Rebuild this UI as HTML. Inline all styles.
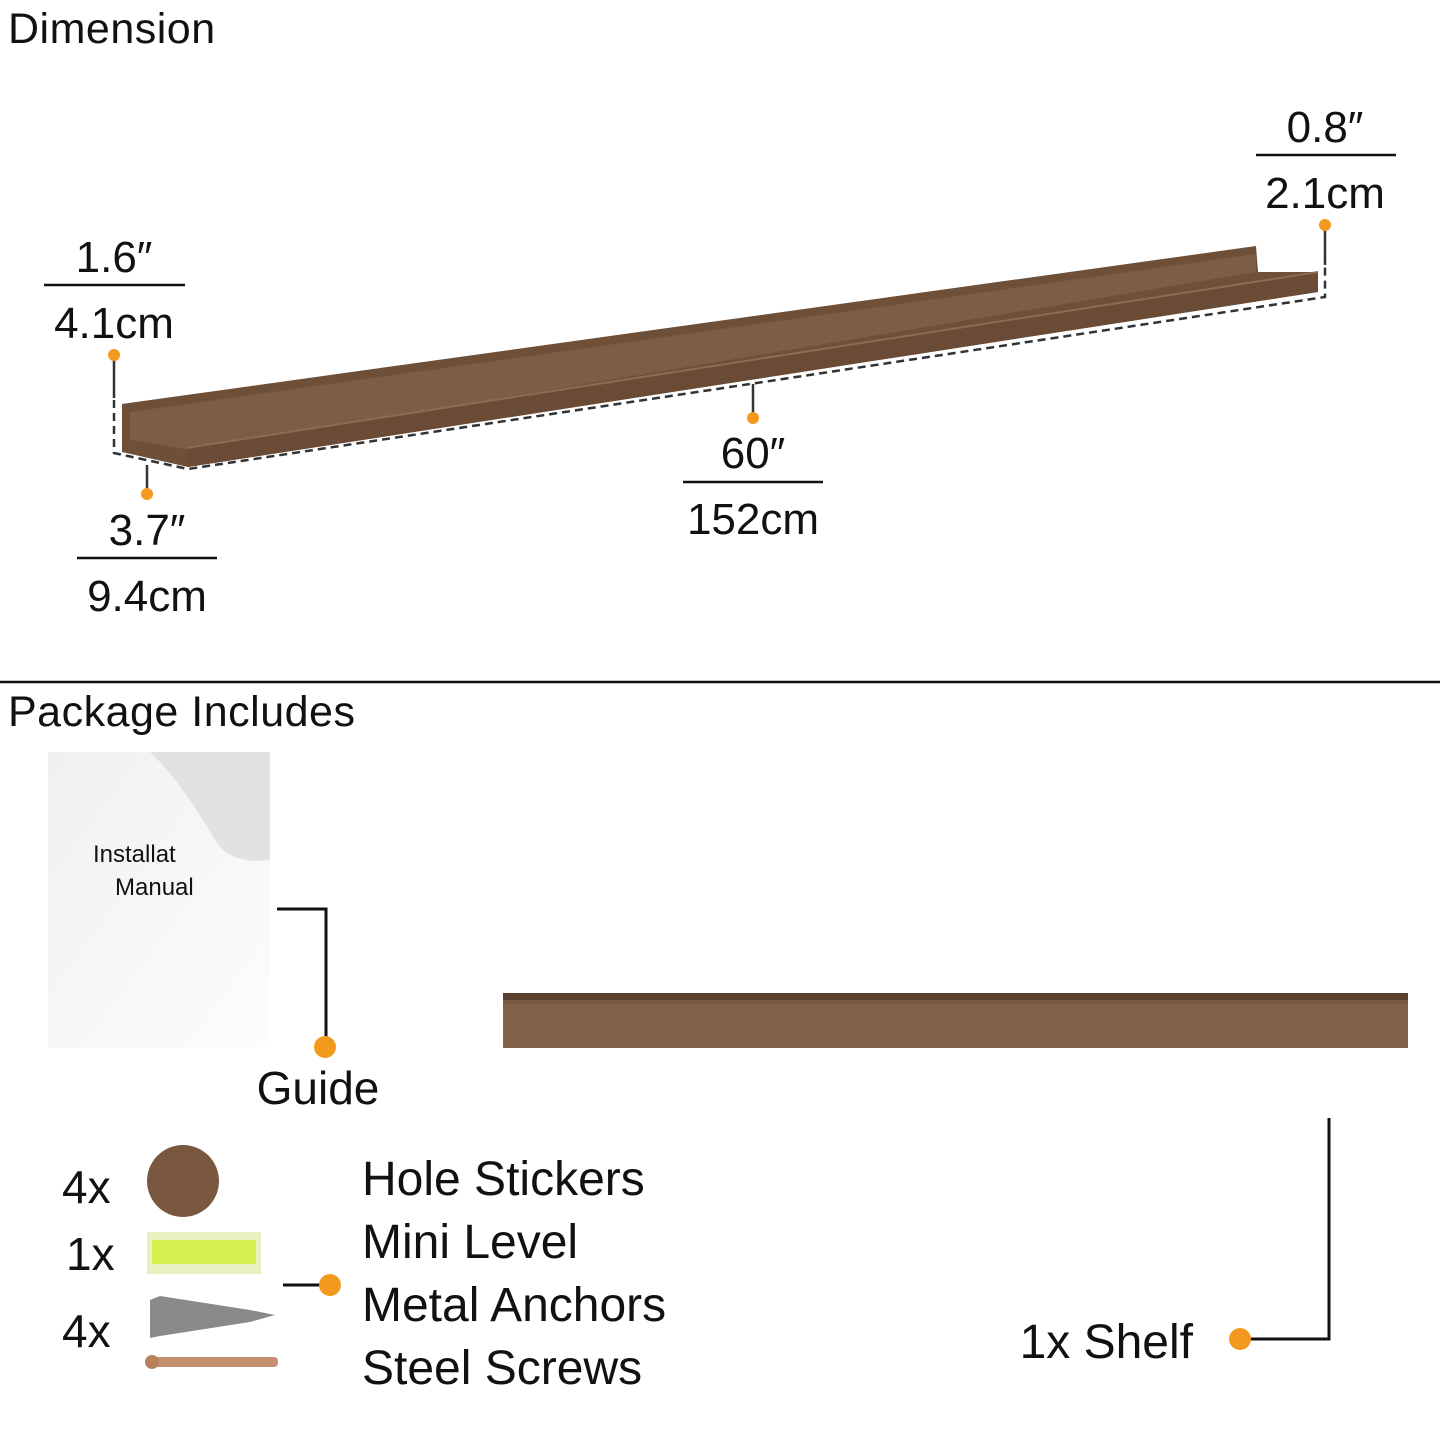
<!DOCTYPE html>
<html><head><meta charset="utf-8"><style>
body{margin:0;width:1440px;height:1440px;background:#fff;overflow:hidden;font-family:"Liberation Sans",sans-serif;}
svg{position:absolute;left:0;top:0}
</style></head><body>
<svg width="1440" height="1440" viewBox="0 0 1440 1440" font-family="Liberation Sans, sans-serif" fill="#111">
<defs>
<linearGradient id="man" x1="0" y1="0" x2="1" y2="1"><stop offset="0" stop-color="#f0f0f0"/><stop offset="1" stop-color="#fdfdfd"/></linearGradient>
</defs>
<text x="8" y="43" font-size="43" letter-spacing="0.5">Dimension</text>
<polygon points="122,404 1256,246 1258,272 1318,272 1318,292 188,467 122,452" fill="#6e4f38"/>
<polygon points="130,412 1256,254 1256,272 190,450 130,440" fill="#7d5d43"/>
<polygon points="186,448 1318,272 1318,292 188,467" fill="#6a4b35"/>
<line x1="186" y1="448" x2="1318" y2="272" stroke="#8c6c50" stroke-width="2"/>
<polyline points="114,400 114,453 188,469 1325,297 1325,262" fill="none" stroke="#333" stroke-width="2.5" stroke-dasharray="8,5"/>
<g stroke="#333" stroke-width="2.5">
<line x1="114" y1="355" x2="114" y2="398"/><line x1="147" y1="465" x2="147" y2="494"/>
<line x1="753" y1="384" x2="753" y2="418"/><line x1="1325" y1="225" x2="1325" y2="265"/>
</g>
<g fill="#f39a1e"><circle cx="114" cy="355" r="6"/><circle cx="147" cy="494" r="6"/><circle cx="753" cy="418" r="6"/><circle cx="1325" cy="225" r="6"/></g>
<g font-size="44" text-anchor="middle">
<text x="114" y="272">1.6″</text><text x="114" y="338">4.1cm</text>
<text x="147" y="545">3.7″</text><text x="147" y="611">9.4cm</text>
<text x="753" y="468">60″</text><text x="753" y="534">152cm</text>
<text x="1325" y="142">0.8″</text><text x="1325" y="208">2.1cm</text>
</g>
<g stroke="#111" stroke-width="2.5">
<line x1="44" y1="285" x2="185" y2="285"/><line x1="77" y1="558" x2="217" y2="558"/>
<line x1="683" y1="482" x2="823" y2="482"/><line x1="1256" y1="155" x2="1396" y2="155"/>
<line x1="0" y1="682" x2="1440" y2="682"/>
</g>
<text x="8" y="726" font-size="43" letter-spacing="0.5">Package Includes</text>
<rect x="48" y="752" width="222" height="296" fill="url(#man)"/>
<path d="M150,752 L270,752 L270,860 Q230,865 215,840 Q180,780 150,752 Z" fill="#e2e2e2"/>
<text x="93" y="862" font-size="24">Installat</text>
<text x="115" y="895" font-size="24">Manual</text>
<polyline points="277,909 326,909 326,1040" fill="none" stroke="#111" stroke-width="3"/>
<circle cx="325" cy="1047" r="11" fill="#f39a1e"/>
<text x="318" y="1104" font-size="46" text-anchor="middle">Guide</text>
<rect x="503" y="993" width="905" height="55" fill="#7a5b42"/>
<rect x="503" y="993" width="905" height="7" fill="#5a3f2c"/>
<rect x="503" y="1004" width="905" height="44" fill="#86664b" opacity="0.6"/>
<polyline points="1329,1118 1329,1339 1245,1339" fill="none" stroke="#111" stroke-width="3"/>
<circle cx="1240" cy="1339" r="11" fill="#f39a1e"/>
<text x="1193" y="1358" font-size="48" text-anchor="end">1x Shelf</text>
<g font-size="46"><text x="62" y="1203">4x</text><text x="66" y="1270">1x</text><text x="62" y="1347">4x</text></g>
<circle cx="183" cy="1181" r="36" fill="#7a5840"/>
<rect x="147" y="1232" width="114" height="42" fill="#e8f0c0"/>
<rect x="152" y="1240" width="104" height="24" fill="#d6f050"/>
<path d="M150,1300 L160,1296 L250,1310 L275,1315 L250,1322 L160,1336 L150,1338 Z" fill="#8a8a8a"/>
<rect x="148" y="1357" width="130" height="10" rx="4" fill="#c49070"/>
<circle cx="152" cy="1362" r="7" fill="#b8805c"/>
<line x1="283" y1="1285" x2="322" y2="1285" stroke="#111" stroke-width="3"/>
<circle cx="330" cy="1285" r="11" fill="#f39a1e"/>
<g font-size="48"><text x="362" y="1195">Hole Stickers</text><text x="362" y="1258">Mini Level</text><text x="362" y="1321">Metal Anchors</text><text x="362" y="1384">Steel Screws</text></g>
</svg>
</body></html>
